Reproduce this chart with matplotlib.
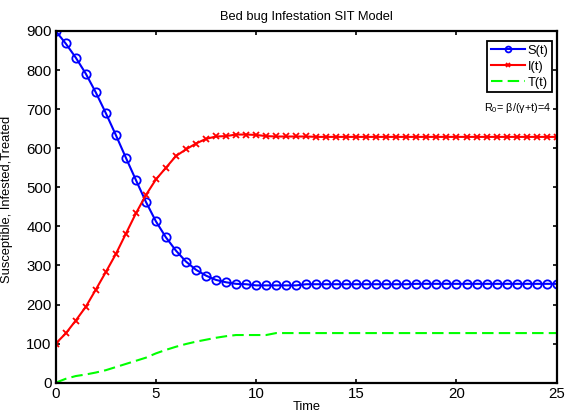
import matplotlib.pyplot as plt
import numpy as np

plt.rcParams['font.family'] = ['Liberation Sans', 'DejaVu Sans']
plt.rcParams['mathtext.fontset'] = 'custom'
plt.rcParams['mathtext.rm'] = 'Liberation Sans'

# time grid, half-day steps
t = np.linspace(0, 25, 51)

S = [900, 868, 832, 791, 743, 690, 634, 576, 519, 463,
     413, 372, 338, 310, 289, 274, 263, 257, 253, 252,
     249, 249, 249, 249, 249, 252, 252, 252, 252, 252,
     252, 252, 252, 252, 252, 252, 253, 253, 253, 253,
     253, 253, 253, 253, 253, 253, 253, 253, 253, 253, 253]

I = [100, 126, 159, 194, 238, 283, 329, 381, 433, 480,
     520, 550, 580, 597, 612, 624, 630, 631, 635, 635,
     634, 631, 630, 630, 630, 630, 629, 629, 629, 629,
     629, 629, 629, 629, 629, 629, 629, 629, 629, 629,
     629, 629, 629, 629, 629, 629, 629, 629, 629, 629, 629]

T = [0, 10, 17, 21, 26, 32, 40, 48, 56, 64,
     75, 84, 92, 99, 105, 110, 115, 119, 122, 122,
     122, 122, 127, 127, 127, 127, 127, 127, 127, 127,
     127, 127, 127, 127, 127, 127, 127, 127, 127, 127,
     127, 127, 127, 127, 127, 127, 127, 127, 127, 127, 127]

xticks = [0, 5, 10, 15, 20, 25]
yticks = list(range(0, 1000, 100))

fig = plt.figure(figsize=(5.67, 4.12), dpi=100)
ax = fig.add_axes([0.0982, 0.0711, 0.8836, 0.8537])

ax.plot(t, S, color='b', lw=1.5, marker='o', markersize=6,
        markerfacecolor='none', markeredgewidth=1.3, label='S(t)')
ax.plot(t, I, color='r', lw=1.5, marker='x', markersize=5,
        markeredgewidth=1.3, label='I(t)')
ax.plot(t, T, color=(0, 1, 0), lw=1.5, linestyle=(0, (5.5, 2.5)),
        label='T(t)')

ax.set_xlim(0, 25)
ax.set_ylim(0, 900)
ax.set_xticks(xticks)
ax.set_yticks(yticks)
ax.tick_params(direction='in', length=3, width=1.2, top=True, right=True,
               labelsize=10.8, pad=3)
for sp in ax.spines.values():
    sp.set_linewidth(1.6)

ax.set_title('Bed bug Infestation SIT Model', fontsize=9.3, pad=8)
ax.set_xlabel('Time', fontsize=9.3)
ax.set_ylabel('Susceptible, Infested,Treated', fontsize=9.3)
ax.xaxis.set_label_coords(0.5, -0.052)
ax.yaxis.set_label_coords(-0.085, 0.52)

leg = ax.legend(loc='upper right', fontsize=9.3, handlelength=2.6,
                fancybox=False, edgecolor='k', framealpha=1, markerscale=0.7,
                borderpad=0.3, labelspacing=0.3, handletextpad=0.2,
                borderaxespad=0.35, bbox_to_anchor=(1.0, 0.985))
leg.get_frame().set_linewidth(1.3)

ax.text(24.75, 703, r'R$_0$= β/(γ+t)=4', fontsize=7.8, ha='right', va='center')

fig.savefig('out.png', dpi=100)
